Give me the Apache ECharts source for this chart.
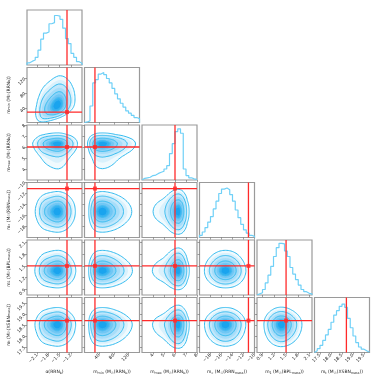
<!DOCTYPE html>
<html>
<head>
<meta charset="utf-8">
<script src="https://cdn.jsdelivr.net/npm/echarts@6/dist/echarts.min.js"></script>
<style>
html,body{margin:0;padding:0;background:#fff;}
#main{width:381px;height:381px;}
</style>
</head>
<body>
<div id="main"></div>
<script>
// parameter labels, ranges and ticks
var paramNames = [
    'α(RRN{s|b})',
    'm{s|min} (M{s|☉}(RRN{s|b}))',
    'm{s|max} (M{s|☉}(RRN{s|b}))',
    'm{s|c} (M{s|☉}(RRN{s|mass}))',
    'm{s|1} (M{s|☉}(BPL{s|mass}))',
    'm{s|t} (M{s|☉}(XSBN{s|mass}))'
];
var paramMin = [-2.37, 0, 3, -20, 0.76, 17.25];
var paramMax = [-0.907, 150, 8, -10, 2.16, 19.75];
var paramTicks = [
    [-2.1, -1.8, -1.5, -1.2],
    [40, 80, 120],
    [4, 5, 6, 7, 8],
    [-18, -16, -14, -12, -10],
    [0.9, 1.2, 1.5, 1.8, 2.1],
    [17.5, 18.0, 18.5, 19.0, 19.5]
];
var tickDecimals = [1, 0, 0, 0, 1, 1];
var truths = [-1.306, 28.5, 6.0, -11.1, 1.5, 18.7];

// 1D marginal histograms, 20 bins over each range (relative heights)
var hist1 = [0.04,0.07,0.09,0.14,0.27,0.47,0.58,0.60,0.75,0.77,0.90,0.89,0.83,0.67,0.48,0.39,0.21,0.14,0.06,0.03];
var hist2 = [0.01,0.03,0.30,0.72,0.78,0.88,0.91,0.87,0.80,0.72,0.62,0.52,0.43,0.35,0.28,0.21,0.17,0.13,0.09,0.07];
var hist3 = [0.03,0.04,0.05,0.08,0.09,0.12,0.14,0.16,0.20,0.26,0.48,0.66,0.88,0.93,0.85,0.20,0.08,0.04,0.02,0.01];
var hist4 = [0.04,0.10,0.18,0.28,0.38,0.52,0.66,0.80,0.88,0.90,0.87,0.78,0.66,0.50,0.36,0.24,0.14,0.08,0.04,0.02];
var hist5 = [0.02,0.04,0.10,0.22,0.36,0.52,0.70,0.86,0.94,0.93,0.80,0.70,0.50,0.38,0.28,0.18,0.10,0.06,0.03,0.02];
var hist6 = [0.03,0.07,0.13,0.22,0.32,0.42,0.55,0.68,0.76,0.84,0.88,0.82,0.62,0.45,0.30,0.18,0.10,0.06,0.03,0.01];
var hists = [hist1, hist2, hist3, hist4, hist5, hist6];

// correlation tilt of the 2D panels [row][col]
var tilt = [
    [0, 0, 0, 0, 0, 0],
    [0.35, 0, 0, 0, 0, 0],
    [0, 0, 0, 0, 0, 0],
    [0, 0, 0, 0, 0, 0],
    [0, 0, 0, 0, 0, 0],
    [0, 0, 0, 0, 0, 0]
];

var lineLevels = [0.865, 0.675, 0.393, 0.118];
var fillLevels = [0.865, 0.78, 0.675, 0.55, 0.393, 0.28, 0.18, 0.118, 0.06];

var RED = '#ff2a2a';
var HIST_COLOR = '#6fd0f7';
var CONTOUR_COLOR = '#35bcf0';

function smoothArr(h) {
    var out = [];
    for (var i = 0; i < h.length; i++) {
        var a = i > 0 ? h[i - 1] : 0, b = i < h.length - 1 ? h[i + 1] : 0;
        out.push(0.25 * a + 0.5 * h[i] + 0.25 * b);
    }
    return out;
}
function sampleHist(h, u) {
    var n = h.length, p = u * n - 0.5, i = Math.floor(p), t = p - i;
    var a = (i >= 0 && i < n) ? h[i] : 0;
    var b = (i + 1 >= 0 && i + 1 < n) ? h[i + 1] : 0;
    return a * (1 - t) + b * t;
}
var smoothHists = hists.map(function (h) { return smoothArr(smoothArr(h)); });

function contoursFor(r, c) {
    var fx = smoothHists[c], fy = smoothHists[r], t = tilt[r][c];
    var ux0 = 0, best = -1;
    fx.forEach(function (v, i) { if (v > best) { best = v; ux0 = (i + 0.5) / fx.length; } });
    function dens(u, v) { return sampleHist(fx, u) * sampleHist(fy, v - t * (u - ux0)); }
    var G = 90, vals = [], u0 = 0.5, v0 = 0.5, dmax = -1;
    for (var a = 0; a < G; a++) {
        for (var b = 0; b < G; b++) {
            var uu = (a + 0.5) / G, vv = (b + 0.5) / G, d = dens(uu, vv);
            vals.push(d);
            if (d > dmax) { dmax = d; u0 = uu; v0 = vv; }
        }
    }
    vals.sort(function (p, q) { return q - p; });
    var total = vals.reduce(function (s, v) { return s + v; }, 0);
    function levelFor(m) {
        var cum = 0;
        for (var k = 0; k < vals.length; k++) {
            cum += vals[k];
            if (cum >= m * total) return vals[k];
        }
        return vals[vals.length - 1];
    }
    function loop(m) {
        var lev = levelFor(m), pts = [], K = 96, dr = 0.004;
        for (var k = 0; k < K; k++) {
            var th = 2 * Math.PI * k / K, cx = Math.cos(th), cy = Math.sin(th);
            var rr = 0, prev = dens(u0, v0), pu = u0, pv = v0;
            while (true) {
                rr += dr;
                var u = u0 + rr * cx, v = v0 + rr * cy;
                if (u < 0 || u > 1 || v < 0 || v > 1) {
                    pu = Math.min(1, Math.max(0, u)); pv = Math.min(1, Math.max(0, v));
                    break;
                }
                var d = dens(u, v);
                if (d < lev) {
                    var f = (prev - lev) / (prev - d), r2 = rr - dr + f * dr;
                    pu = u0 + r2 * cx; pv = v0 + r2 * cy;
                    break;
                }
                prev = d;
            }
            pts.push([paramMin[c] + pu * (paramMax[c] - paramMin[c]),
                      paramMin[r] + pv * (paramMax[r] - paramMin[r])]);
        }
        return pts;
    }
    return { fills: fillLevels.map(loop), lines: lineLevels.map(loop) };
}

function fillColor(k) {
    var f = k / (fillLevels.length - 1);
    var c0 = [240, 250, 254], c1 = [26, 164, 238];
    var rgb = c0.map(function (v, i) { return Math.round(v + (c1[i] - v) * Math.pow(f, 1.1)); });
    return 'rgb(' + rgb.join(',') + ')';
}

function fmt(p) {
    return function (v) { return v.toFixed(tickDecimals[p]).replace('-', '\u2212'); };
}
var nameStyle = {
    fontSize: 4.5, color: '#222', fontFamily: 'DejaVu Sans',
    rich: { s: { fontSize: 3.3, color: '#222', fontFamily: 'DejaVu Sans', verticalAlign: 'bottom' } }
};

var grids = [], xAxes = [], yAxes = [], series = [];

for (var r = 0; r < 6; r++) {
    for (var c = 0; c <= r; c++) {
        var idx = grids.length;
        grids.push({
            left: 27 + c * 57.5, top: 10 + r * 57.5, width: 55, height: 55,
            show: true, borderColor: '#9a9a9a', borderWidth: 1.2, backgroundColor: 'transparent'
        });
        var bottom = (r === 5);
        xAxes.push({
            gridIndex: idx, type: 'value', min: paramMin[c], max: paramMax[c],
            axisLine: { show: false }, splitLine: { show: false },
            axisTick: { show: true, length: 2, lineStyle: { color: '#666', width: 0.6 }, customValues: paramTicks[c] },
            axisLabel: {
                show: bottom, customValues: paramTicks[c], rotate: 45, fontSize: 4.5, margin: 2,
                color: '#222', fontFamily: 'DejaVu Sans', formatter: fmt(c)
            },
            name: bottom ? paramNames[c] : '', nameLocation: 'middle', nameGap: 17, nameTextStyle: nameStyle
        });
        if (r === c) {
            yAxes.push({ gridIndex: idx, type: 'value', min: 0, max: 1, show: false });
            var h = hists[c], w = (paramMax[c] - paramMin[c]) / h.length;
            var pts = [[paramMin[c], 0]];
            h.forEach(function (v, i) { pts.push([paramMin[c] + i * w, v]); });
            pts.push([paramMax[c], h[h.length - 1]]);
            pts.push([paramMax[c], 0]);
            series.push({
                type: 'line', xAxisIndex: idx, yAxisIndex: idx, step: 'end', symbol: 'none',
                lineStyle: { color: HIST_COLOR, width: 1.2 }, data: pts, silent: true
            });
            series.push({
                type: 'line', xAxisIndex: idx, yAxisIndex: idx, symbol: 'none', z: 5,
                lineStyle: { color: RED, width: 1.3 }, data: [[truths[c], 0], [truths[c], 1]], silent: true
            });
        } else {
            var left = (c === 0);
            yAxes.push({
                gridIndex: idx, type: 'value', min: paramMin[r], max: paramMax[r],
                axisLine: { show: false }, splitLine: { show: false },
                axisTick: { show: true, length: 2, lineStyle: { color: '#666', width: 0.6 }, customValues: paramTicks[r] },
                axisLabel: {
                    show: left, customValues: paramTicks[r], rotate: 45, fontSize: 4.5, margin: 2,
                    color: '#222', fontFamily: 'DejaVu Sans', formatter: fmt(r)
                },
                name: left ? paramNames[r] : '', nameLocation: 'middle', nameGap: 16, nameTextStyle: nameStyle
            });
            (function (cont) {
                series.push({
                    type: 'custom', xAxisIndex: idx, yAxisIndex: idx, clip: true, silent: true,
                    data: [[paramMin[c], paramMin[r]]],
                    renderItem: function (params, api) {
                        var children = [];
                        cont.fills.forEach(function (poly, k) {
                            children.push({
                                type: 'polygon',
                                shape: { points: poly.map(function (p) { return api.coord(p); }) },
                                style: { fill: fillColor(k), stroke: null }
                            });
                        });
                        cont.lines.forEach(function (poly) {
                            children.push({
                                type: 'polygon',
                                shape: { points: poly.map(function (p) { return api.coord(p); }) },
                                style: { fill: null, stroke: CONTOUR_COLOR, lineWidth: 1 }
                            });
                        });
                        return { type: 'group', children: children };
                    }
                });
            })(contoursFor(r, c));
            series.push({
                type: 'line', xAxisIndex: idx, yAxisIndex: idx, symbol: 'none', z: 5, silent: true,
                lineStyle: { color: RED, width: 1.3 },
                data: [[truths[c], paramMin[r]], [truths[c], paramMax[r]]]
            });
            series.push({
                type: 'line', xAxisIndex: idx, yAxisIndex: idx, symbol: 'none', z: 5, silent: true,
                lineStyle: { color: RED, width: 1.3 },
                data: [[paramMin[c], truths[r]], [paramMax[c], truths[r]]]
            });
            series.push({
                type: 'scatter', xAxisIndex: idx, yAxisIndex: idx, symbol: 'rect', symbolSize: 4,
                z: 6, silent: true, itemStyle: { color: RED }, data: [[truths[c], truths[r]]]
            });
        }
    }
}

var myChart = echarts.init(document.getElementById('main'));
myChart.setOption({
    backgroundColor: '#fff',
    animation: false,
    grid: grids,
    xAxis: xAxes,
    yAxis: yAxes,
    series: series
});
</script>
</body>
</html>
